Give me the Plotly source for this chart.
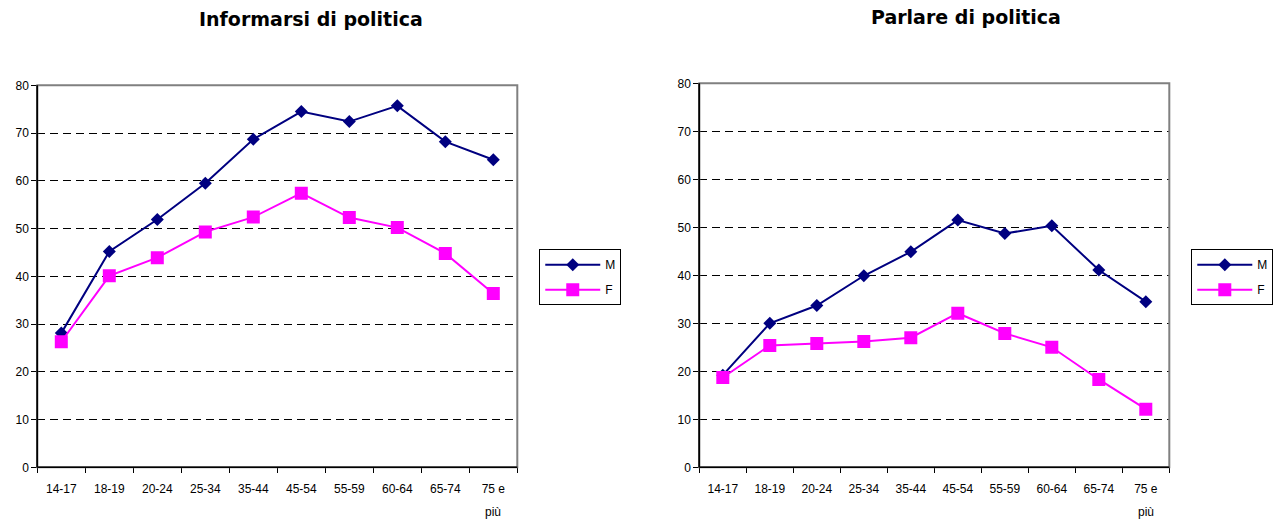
import plotly.graph_objects as go

# Fasce d'età (etichette dell'asse x)
age_groups = ["14-17", "18-19", "20-24", "25-34", "35-44", "45-54",
              "55-59", "60-64", "65-74", "75 e"]
last_label_second_line = "più"

# Informarsi di politica (%)
info_m = [28.1, 45.2, 51.9, 59.5, 68.7, 74.5, 72.4, 75.7, 68.2, 64.4]
info_f = [26.3, 40.1, 43.9, 49.3, 52.4, 57.4, 52.3, 50.2, 44.8, 36.4]

# Parlare di politica (%)
talk_m = [19.2, 30.0, 33.7, 39.9, 44.9, 51.5, 48.7, 50.3, 41.1, 34.5]
talk_f = [18.7, 25.4, 25.8, 26.2, 27.0, 32.1, 27.9, 25.0, 18.3, 12.1]

titles = ["Informarsi di politica", "Parlare di politica"]
series_names = ["M", "F"]

NAVY = "#000080"
MAGENTA = "#FF00FF"
FONT = "Liberation Sans, Arial, sans-serif"
TITLE_FONT = "DejaVu Sans, Arial, sans-serif"

fig = go.Figure()

panels = [
    dict(xa="x", ya="y", legend="legend", m=info_m, f=info_f),
    dict(xa="x2", ya="y2", legend="legend2", m=talk_m, f=talk_f),
]

for p in panels:
    fig.add_trace(go.Scatter(
        x=age_groups, y=p["m"], name=series_names[0], mode="lines+markers",
        xaxis=p["xa"], yaxis=p["ya"], legend=p["legend"], legendgroup="m",
        line=dict(color=NAVY, width=2),
        marker=dict(symbol="diamond", size=10, color=NAVY),
    ))
    fig.add_trace(go.Scatter(
        x=age_groups, y=p["f"], name=series_names[1], mode="lines+markers",
        xaxis=p["xa"], yaxis=p["ya"], legend=p["legend"], legendgroup="f",
        line=dict(color=MAGENTA, width=2),
        marker=dict(symbol="square", size=13, color=MAGENTA),
    ))

xaxis_style = dict(
    type="category", range=[-0.5, 9.5], tickson="boundaries",
    ticks="outside", ticklen=5, tickcolor="black", tickwidth=1,
    showline=True, linecolor="black", linewidth=1,
    showgrid=False, zeroline=False, ticklabelstandoff=10,
    automargin=False,
    tickfont=dict(family=FONT, size=12, color="black"),
)
yaxis_style = dict(
    range=[0, 80], dtick=10, ticks="outside", ticklen=5,
    tickcolor="black", tickwidth=1,
    showline=True, linecolor="black", linewidth=1,
    showgrid=True, gridcolor="black", gridwidth=1, griddash="8px,5px",
    zeroline=False, automargin=False,
    tickfont=dict(family=FONT, size=12, color="black"),
)

legend_style = dict(
    xanchor="left", yanchor="top", bgcolor="white",
    bordercolor="black", borderwidth=1,
    font=dict(family=FONT, size=12, color="black"),
    tracegroupgap=6, traceorder="grouped",
    itemwidth=55,
)

fig.update_layout(
    width=1280, height=520,
    margin=dict(l=0, r=0, t=0, b=0, pad=0, autoexpand=False),
    paper_bgcolor="white", plot_bgcolor="white",
    font=dict(family=FONT, color="black"),
    xaxis=dict(domain=[0.02914, 0.40414], anchor="y", **xaxis_style),
    yaxis=dict(domain=[0.10135, 0.83596], anchor="x", **yaxis_style),
    xaxis2=dict(domain=[0.54633, 0.91352], anchor="y2", **xaxis_style),
    yaxis2=dict(domain=[0.10135, 0.83981], anchor="x2", **yaxis_style),
    legend=dict(x=0.4213, y=0.5206, **legend_style),
    legend2=dict(x=0.9307, y=0.5206, **legend_style),
    showlegend=True,
)

# Plot-area frame: grey on the top and right edges
for xa, ya in (("x", "y"), ("x2", "y2")):
    fig.add_shape(type="rect", xref=f"{xa} domain", yref=f"{ya} domain",
                  x0=0, x1=1, y0=0, y1=1, layer="above",
                  line=dict(color="#808080", width=2))
    fig.add_shape(type="line", xref=f"{xa} domain", yref=f"{ya} domain",
                  x0=0, x1=0, y0=0, y1=1, layer="above",
                  line=dict(color="black", width=1.5))
    fig.add_shape(type="line", xref=f"{xa} domain", yref=f"{ya} domain",
                  x0=0, x1=1, y0=0, y1=0, layer="above",
                  line=dict(color="black", width=1.5))
    # Second line of the last age-group label
    fig.add_annotation(x=age_groups[-1], xref=xa, y=1 - 512 / 520,
                       yref="paper", xanchor="center", yanchor="middle",
                       text=last_label_second_line, showarrow=False,
                       font=dict(family=FONT, size=12, color="black"))

# Chart titles
fig.add_annotation(x=311 / 1280, y=1 - 19 / 520, xref="paper", yref="paper",
                   text=f"<b>{titles[0]}</b>", showarrow=False,
                   xanchor="center", yanchor="middle",
                   font=dict(family=TITLE_FONT, size=19, color="black"))
fig.add_annotation(x=966 / 1280, y=1 - 17 / 520, xref="paper", yref="paper",
                   text=f"<b>{titles[1]}</b>", showarrow=False,
                   xanchor="center", yanchor="middle",
                   font=dict(family=TITLE_FONT, size=19, color="black"))

fig.write_html("out.html")
